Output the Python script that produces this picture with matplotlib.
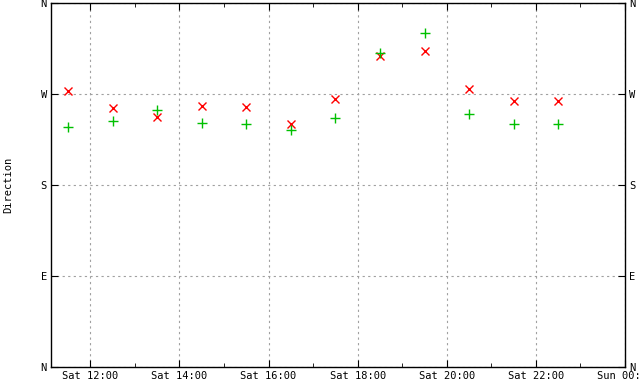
import numpy as np
import pandas as pd
import matplotlib
matplotlib.use("Agg")
import matplotlib.pyplot as plt
import matplotlib.dates as mdates

# hourly readings, Saturday 11:30 .. 22:30
times = pd.date_range("2021-01-02 11:30", periods=12, freq="h")
dir_red = [273, 256, 247, 258, 257, 240, 265, 308, 313, 275, 263, 263]
dir_green = [237, 243, 254, 241, 240, 234, 246, 311, 330, 250, 240, 240]

ytick_vals = [0, 90, 180, 270, 360]
ytick_labels = ["N", "E", "S", "W", "N"]

plt.rcParams['font.family'] = ['DejaVu Sans Mono']
plt.rcParams['font.size'] = 7.5

fig = plt.figure(figsize=(6.4, 3.84), dpi=100)
ax = fig.add_axes([51 / 640, 1 - 367 / 384, (625 - 51) / 640, (367 - 3) / 384])

ax.plot(times, dir_red, linestyle='none', marker='x', color='red', markersize=5.5, markeredgewidth=1)
ax.plot(times, dir_green, linestyle='none', marker='+', color='#00c000', markersize=6.5, markeredgewidth=1)

ax.set_ylim(0, 360)
ax.set_yticks(ytick_vals)
ax.set_yticklabels(ytick_labels)
ax.set_xlim(pd.Timestamp("2021-01-02 11:07"), pd.Timestamp("2021-01-03 00:00"))
ax.xaxis.set_major_locator(mdates.HourLocator(byhour=range(0, 24, 2)))
ax.xaxis.set_minor_locator(mdates.HourLocator())
ax.xaxis.set_major_formatter(mdates.DateFormatter("%a %H:%M"))

ax.tick_params(which='both', direction='in', top=True, right=True, labelright=True)
ax.tick_params(which='major', length=5, pad=3)
ax.tick_params(which='minor', length=3)
ax.grid(True, which='major', linestyle=(0, (2, 3)), color='#a0a0a0', linewidth=0.8)
for s in ax.spines.values():
    s.set_linewidth(1)
ax.set_ylabel("Direction", labelpad=20)

fig.savefig("out.png", dpi=100)
